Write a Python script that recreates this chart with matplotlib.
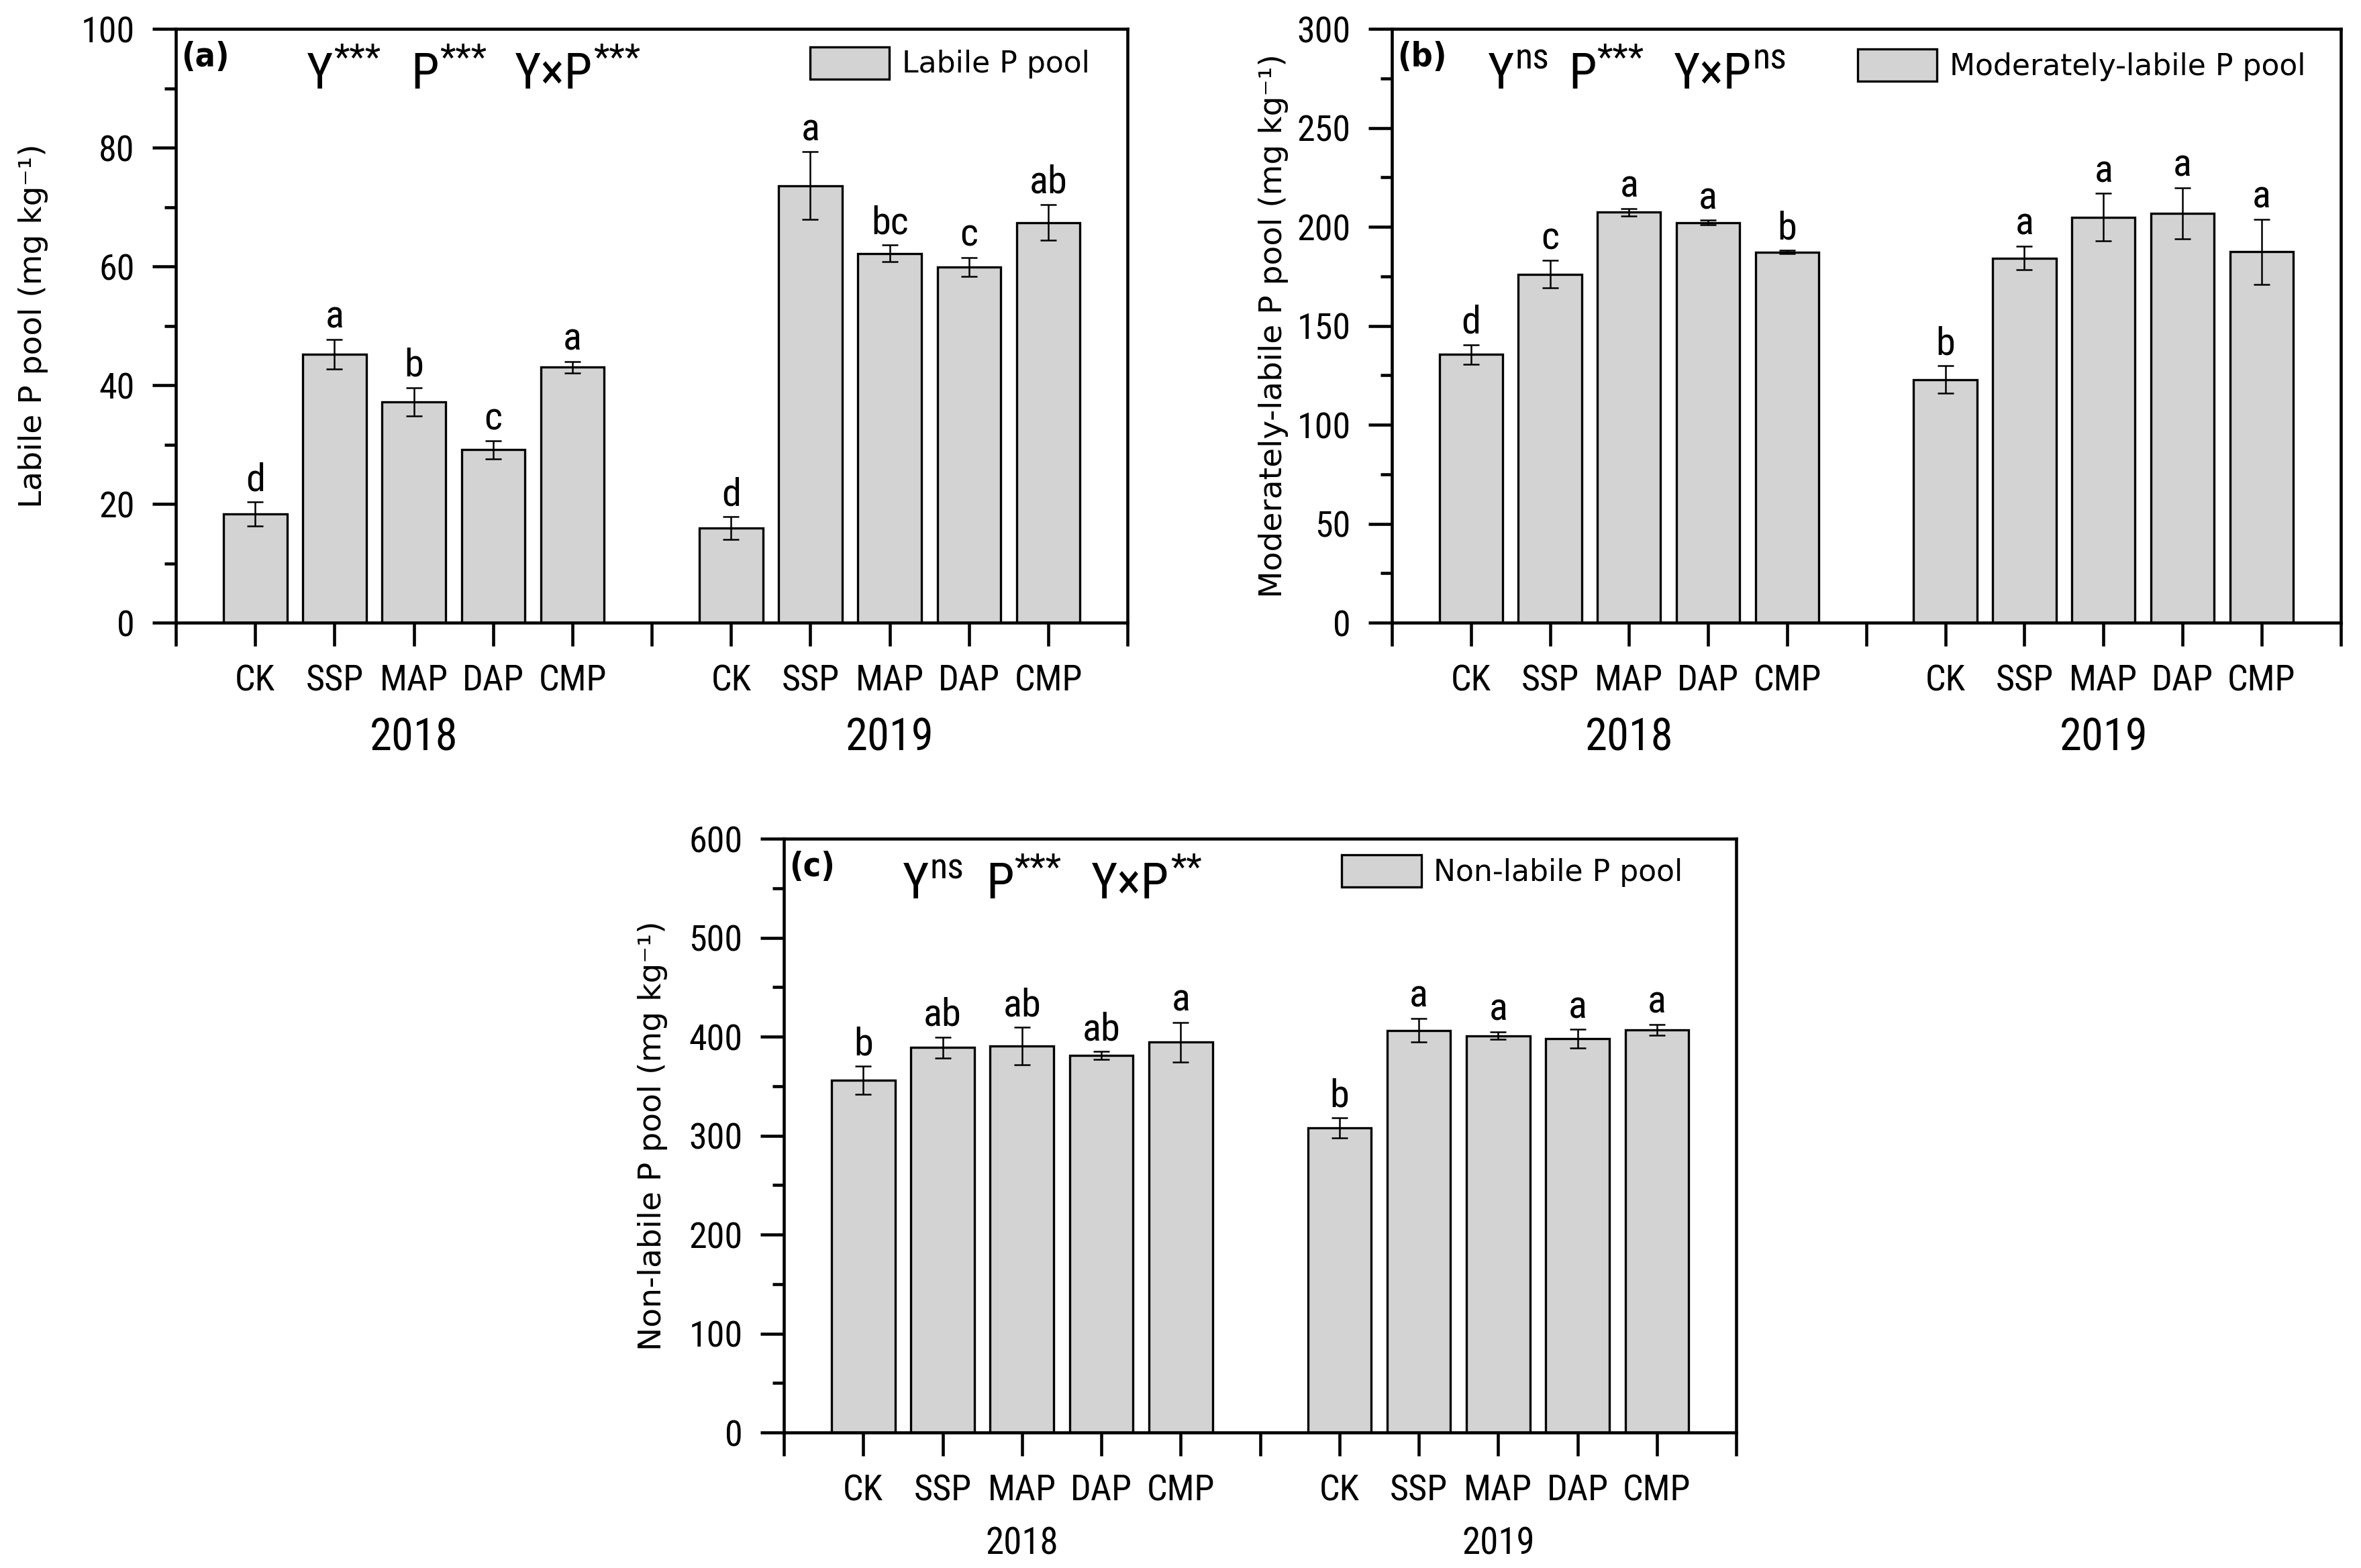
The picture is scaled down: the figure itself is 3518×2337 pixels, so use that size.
import matplotlib
matplotlib.use('Agg')
import matplotlib.pyplot as plt
import numpy as np
from matplotlib import font_manager as fm
from matplotlib.ticker import MultipleLocator

# values
treatments = ['CK', 'SSP', 'MAP', 'DAP', 'CMP']
years = ['2018', '2019']

labile_mean = [18.3, 45.2, 37.2, 29.1, 43.0, 15.9, 73.6, 62.2, 59.9, 67.4]
labile_err = [2.0, 2.5, 2.4, 1.5, 1.0, 1.9, 5.7, 1.4, 1.6, 3.0]
labile_letters = ['d', 'a', 'b', 'c', 'a', 'd', 'a', 'bc', 'c', 'ab']

moderate_mean = [135.5, 176.0, 207.3, 202.1, 187.2, 122.8, 184.2, 204.8, 206.8, 187.4]
moderate_err = [5.0, 7.0, 2.0, 1.2, 0.8, 7.0, 6.0, 12.0, 13.0, 16.5]
moderate_letters = ['d', 'c', 'a', 'a', 'b', 'b', 'a', 'a', 'a', 'a']

nonlabile_mean = [356, 389, 390.4, 381, 394.4, 308, 406.4, 401, 398, 407]
nonlabile_err = [14, 10.5, 19, 4, 20, 10, 12, 4, 9.5, 5.5]
nonlabile_letters = ['b', 'ab', 'ab', 'ab', 'a', 'b', 'a', 'a', 'a', 'a']

stats_a = [('Y', '***'), ('P', '***'), ('Y×P', '***')]
stats_b = [('Y', 'ns'), ('P', '***'), ('Y×P', 'ns')]
stats_c = [('Y', 'ns'), ('P', '***'), ('Y×P', '**')]

plt.rcParams['font.family'] = ['DejaVu Sans']

# pick a narrow sans for the tick labels / annotations
installed = {(f.name, f.stretch) for f in fm.fontManager.ttflist}
names = {n for n, _ in installed}
narrow_kw = {'family': ['DejaVu Sans']}
for cand in ['Liberation Sans Narrow', 'Roboto Condensed', 'Arial Narrow',
             'Open Sans Condensed', 'Noto Sans Condensed']:
    if cand in names:
        narrow_kw = {'family': [cand, 'DejaVu Sans']}
        break
else:
    if any(n == 'DejaVu Sans' and str(s) in ('condensed', 'semi-condensed', '500', '600')
           for n, s in installed):
        narrow_kw = {'family': ['DejaVu Sans'], 'fontstretch': 'condensed'}

# bar positions: two groups of five with an empty slot between
pos = np.r_[np.arange(1, 6), np.arange(7, 12)]


def draw_panel(ax, means, errs, letters, ylabel, ymax, major, minor,
               leg_label, leg_anchor, tag, stats, stat_x, ylabel_x, year_size, year_y):
    bars = ax.bar(pos, means, width=0.8, color='#d3d3d3', edgecolor='black',
                  linewidth=0.8, label=leg_label, zorder=2)
    ax.errorbar(pos, means, yerr=errs, fmt='none', ecolor='black',
                elinewidth=0.6, capsize=2.8, capthick=0.6, zorder=3)
    for x, m, e, l in zip(pos, means, errs, letters):
        ax.annotate(l, xy=(x, m + e), xytext=(0, 1.2), textcoords='offset points',
                    ha='center', va='bottom', fontsize=14, **narrow_kw)

    ax.set_xlim(0, 12)
    ax.set_ylim(0, ymax)
    ax.yaxis.set_major_locator(MultipleLocator(major))
    ax.yaxis.set_minor_locator(MultipleLocator(minor))
    ax.set_xticks([0, 6, 12], minor=True)
    ax.set_xticks(pos)
    ax.set_xticklabels(treatments * 2, fontsize=13, **narrow_kw)
    ax.set_yticks(ax.get_yticks())
    ax.set_yticklabels([f'{v:g}' for v in ax.get_yticks()], fontsize=13, **narrow_kw)
    ax.set_ylim(0, ymax)
    ax.tick_params(axis='both', which='major', direction='out', length=8.4,
                   width=1.1, pad=6.3)
    ax.tick_params(axis='y', which='minor', direction='out', length=4, width=1.1)
    ax.tick_params(axis='x', which='minor', direction='out', length=8.4, width=1.1)
    for s in ax.spines.values():
        s.set_linewidth(1.1)

    ax.set_ylabel(ylabel, fontsize=11.3, va='center')
    ax.yaxis.set_label_coords(ylabel_x, 0.5)

    for gx, yr in zip([3, 9], years):
        ax.text(gx, year_y, yr, transform=ax.get_xaxis_transform(), ha='center',
                va='center', fontsize=year_size, **narrow_kw)

    ax.text(0.006, 0.953, tag, transform=ax.transAxes, ha='left', va='center',
            fontsize=12, fontweight='bold', fontstretch='condensed')
    for x, (base, sup) in zip(stat_x, stats):
        t = ax.text(x, 0.90, base, transform=ax.transAxes, ha='left',
                    va='baseline', fontsize=18, **narrow_kw)
        ax.annotate(sup, xy=(1, 0), xycoords=t, xytext=(0.3, 10.5),
                    textcoords='offset points', ha='left', va='baseline',
                    fontsize=13, **narrow_kw)

    ax.legend(handles=[bars], labels=[leg_label], loc='upper right',
              bbox_to_anchor=leg_anchor, frameon=False, fontsize=10.6,
              handlelength=2.68, handleheight=1.3, handletextpad=0.42,
              borderpad=0, borderaxespad=0)


fig = plt.figure(figsize=(3518 / 300, 2337 / 300), dpi=300)
ax_a = fig.add_axes([0.0745, 0.6029, 0.4031, 0.3787])
ax_b = fig.add_axes([0.5895, 0.6029, 0.4019, 0.3787])
ax_c = fig.add_axes([0.3320, 0.0864, 0.4034, 0.3787])

draw_panel(ax_a, labile_mean, labile_err, labile_letters,
           'Labile P pool (mg kg⁻¹)', 100, 20, 10,
           'Labile P pool', (0.96, 0.97), '(a)', stats_a,
           [0.1375, 0.247, 0.356], -0.15, 16, -0.195)
draw_panel(ax_b, moderate_mean, moderate_err, moderate_letters,
           'Moderately-labile P pool (mg kg⁻¹)', 300, 50, 25,
           'Moderately-labile P pool', (0.963, 0.966), '(b)', stats_b,
           [0.101, 0.186, 0.297], -0.125, 16, -0.195)
draw_panel(ax_c, nonlabile_mean, nonlabile_err, nonlabile_letters,
           'Non-labile P pool (mg kg⁻¹)', 600, 100, 50,
           'Non-labile P pool', (0.944, 0.973), '(c)', stats_c,
           [0.125, 0.212, 0.323], -0.138, 13.2, -0.188)

fig.savefig('out.png', dpi=300)
